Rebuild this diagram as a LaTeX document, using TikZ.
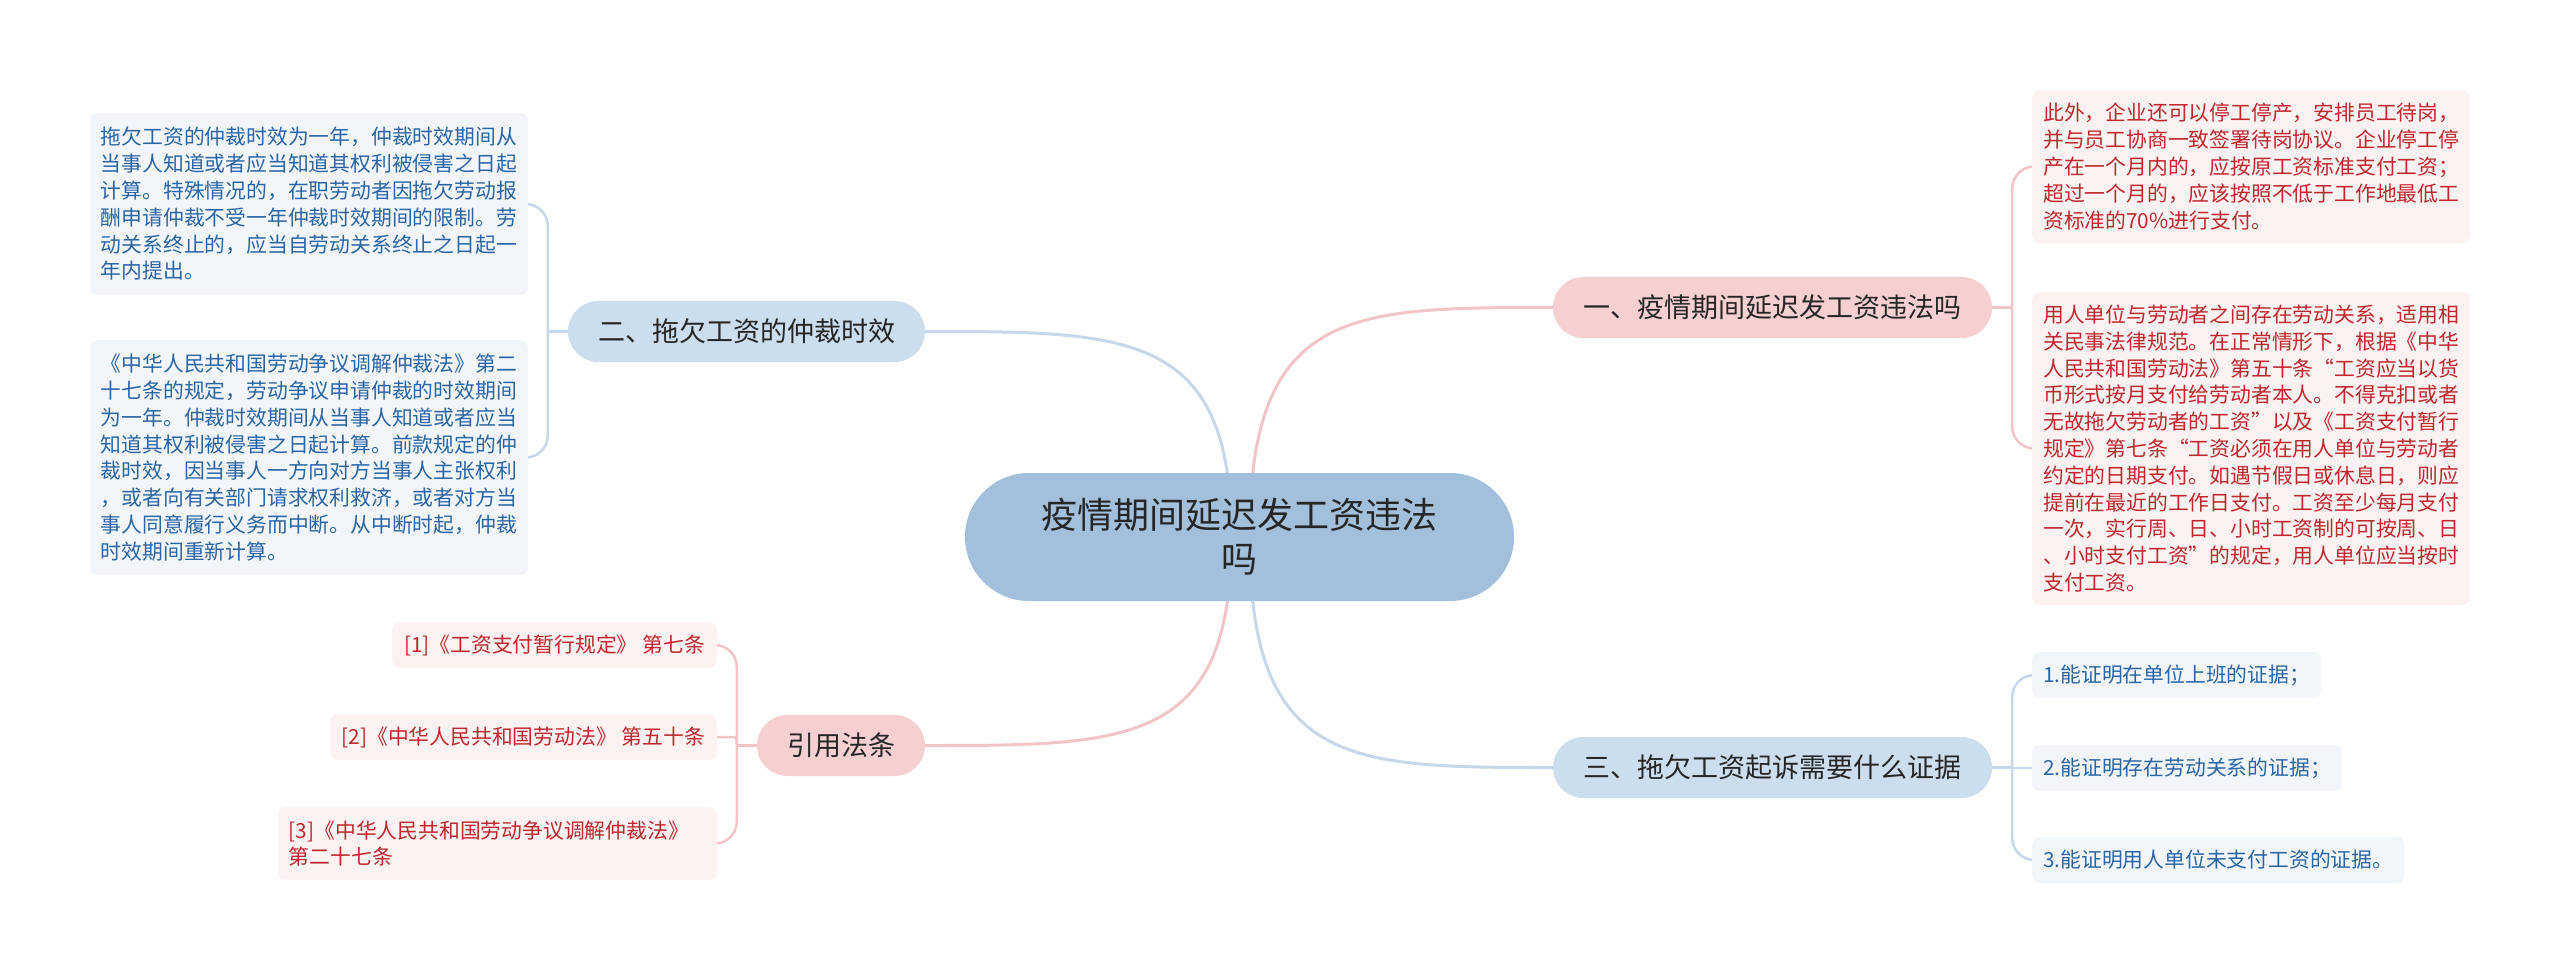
\documentclass[tikz,border=0pt]{standalone}
\usepackage{fontspec}
\setmainfont{Noto Sans CJK SC}
\pgfdeclarelayer{bg}
\pgfsetlayers{bg,main}
\definecolor{rootfill}{HTML}{A2BFDC}
\definecolor{bbfill}{HTML}{CCDDED}
\definecolor{pbfill}{HTML}{F6CFD0}
\definecolor{blfill}{HTML}{F2F6FB}
\definecolor{plfill}{HTML}{FCF2F2}
\definecolor{btext}{HTML}{2B65A6}
\definecolor{ptext}{HTML}{C0282E}
\definecolor{dtext}{HTML}{262626}
\definecolor{bline}{HTML}{C6D7EA}
\definecolor{pline}{HTML}{F1C5C7}
\begin{document}
\begin{tikzpicture}[x=1pt,y=-1pt,
  rootnode/.style={fill=rootfill, rounded corners=64pt, minimum width=549pt, minimum height=128pt,
    align=center, text=dtext, font={\fontsize{36}{44}\selectfont}, inner sep=0pt},
  bbranch/.style={fill=bbfill, rounded corners=30.5pt, minimum height=61pt, text=dtext,
    font={\fontsize{27}{32}\selectfont}, inner sep=0pt},
  pbranch/.style={bbranch, fill=pbfill},
  leafbase/.style={rounded corners=8pt, inner xsep=11pt, inner ysep=4pt, align=left,
    font={\fontsize{20.8}{26.8}\selectfont}},
  bleaf/.style={leafbase, fill=blfill, text=btext},
  pleaf/.style={leafbase, fill=plfill, text=ptext},
  bmain/.style={draw=bline, line width=3pt},
  pmain/.style={draw=pline, line width=3pt},
  bsub/.style={draw=bline, line width=2.5pt},
  psub/.style={draw=pline, line width=2.5pt}
]
\useasboundingbox (0,0) rectangle (2560,974);

% root and branches
\node[rootnode] (root) at (1239.5,537) {疫情期间延迟发工资违法\\吗};
\node[bbranch, minimum width=357pt] (b2) at (746.5,331.5) {二、拖欠工资的仲裁时效};
\node[pbranch, minimum width=439pt] (b1) at (1772.5,307.5) {一、疫情期间延迟发工资违法吗};
\node[bbranch, minimum width=439pt] (b3) at (1772.5,767.5) {三、拖欠工资起诉需要什么证据};
\node[pbranch, minimum width=168pt] (b4) at (841,745.5) {引用法条};

% left top leaves
\node[bleaf, text width=416pt, minimum height=182pt, anchor=east] (l21) at (528,204) {拖欠工资的仲裁时效为一年，仲裁时效期间从\\当事人知道或者应当知道其权利被侵害之日起\\计算。特殊情况的，在职劳动者因拖欠劳动报\\酬申请仲裁不受一年仲裁时效期间的限制。劳\\动关系终止的，应当自劳动关系终止之日起一\\年内提出。};
\node[bleaf, text width=416pt, minimum height=235pt, anchor=east] (l22) at (528,457.5) {《中华人民共和国劳动争议调解仲裁法》第二\\十七条的规定，劳动争议申请仲裁的时效期间\\为一年。仲裁时效期间从当事人知道或者应当\\知道其权利被侵害之日起计算。前款规定的仲\\裁时效，因当事人一方向对方当事人主张权利\\，或者向有关部门请求权利救济，或者对方当\\事人同意履行义务而中断。从中断时起，仲裁\\时效期间重新计算。};

% right top leaves
\node[pleaf, text width=416pt, minimum height=153pt, anchor=west] (l11) at (2032,166.5) {此外，企业还可以停工停产，安排员工待岗，\\并与员工协商一致签署待岗协议。企业停工停\\产在一个月内的，应按原工资标准支付工资；\\超过一个月的，应该按照不低于工作地最低工\\资标准的70\%进行支付。};
\node[pleaf, text width=416pt, minimum height=313pt, anchor=west] (l12) at (2032,448.5) {用人单位与劳动者之间存在劳动关系，适用相\\关民事法律规范。在正常情形下，根据《中华\\人民共和国劳动法》第五十条“工资应当以货\\币形式按月支付给劳动者本人。不得克扣或者\\无故拖欠劳动者的工资”以及《工资支付暂行\\规定》第七条“工资必须在用人单位与劳动者\\约定的日期支付。如遇节假日或休息日，则应\\提前在最近的工作日支付。工资至少每月支付\\一次，实行周、日、小时工资制的可按周、日\\、小时支付工资”的规定，用人单位应当按时\\支付工资。};

% right bottom leaves
\node[bleaf, minimum height=46pt, anchor=west] (l31) at (2032,675) {1.能证明在单位上班的证据；};
\node[bleaf, minimum height=46pt, anchor=west] (l32) at (2032,768) {2.能证明存在劳动关系的证据；};
\node[bleaf, minimum height=46pt, anchor=west] (l33) at (2032,860) {3.能证明用人单位未支付工资的证据。};

% left bottom leaves
\node[pleaf, minimum height=46pt, inner xsep=12pt, anchor=east] (l41) at (717,645) {[1]《工资支付暂行规定》 第七条};
\node[pleaf, minimum height=46pt, inner xsep=12pt, anchor=east] (l42) at (717,737) {[2]《中华人民共和国劳动法》 第五十条};
\node[pleaf, text width=417pt, minimum height=73pt, anchor=east] (l43) at (717,843.5) {[3]《中华人民共和国劳动争议调解仲裁法》\\第二十七条};

\begin{pgfonlayer}{bg}
\fill[white] (0,0) rectangle (2560,974);
\coordinate (sL) at ([xshift=-8pt]root.center);
\coordinate (sR) at ([xshift=10pt]root.center);
\draw[bmain] (sL) .. controls (sL |- b2.east) and ([xshift=205pt]b2.east) .. (b2.east);
\draw[pmain] (sR) .. controls (sR |- b1.west) and ([xshift=-203pt]b1.west) .. (b1.west);
\draw[pmain] (sL) .. controls (sL |- b4.east) and ([xshift=205pt]b4.east) .. (b4.east);
\draw[bmain] (sR) .. controls (sR |- b3.west) and ([xshift=-203pt]b3.west) .. (b3.west);

\coordinate (j2) at ([xshift=-20pt]b2.west);
\draw[bsub] (b2.west) -- (j2);
\draw[bsub, rounded corners=22pt] (j2) -- (j2 |- l21.east) -- (l21.east);
\draw[bsub, rounded corners=22pt] (j2) -- (j2 |- l22.east) -- (l22.east);

\coordinate (j1) at ([xshift=20pt]b1.east);
\draw[psub] (b1.east) -- (j1);
\draw[psub, rounded corners=22pt] (j1) -- (j1 |- l11.west) -- (l11.west);
\draw[psub, rounded corners=22pt] (j1) -- (j1 |- l12.west) -- (l12.west);

\coordinate (j3) at ([xshift=20pt]b3.east);
\draw[bsub] (b3.east) -- (j3);
\draw[bsub, rounded corners=22pt] (j3) -- (j3 |- l31.west) -- (l31.west);
\draw[bsub] (j3) -- (j3 |- l32.west) -- (l32.west);
\draw[bsub, rounded corners=22pt] (j3) -- (j3 |- l33.west) -- (l33.west);

\coordinate (j4) at ([xshift=-20pt]b4.west);
\draw[psub] (b4.west) -- (j4);
\draw[psub, rounded corners=22pt] (j4) -- (j4 |- l41.east) -- (l41.east);
\draw[psub, rounded corners=3pt] (j4) -- (j4 |- l42.east) -- (l42.east);
\draw[psub, rounded corners=22pt] (j4) -- (j4 |- l43.east) -- (l43.east);
\end{pgfonlayer}
\end{tikzpicture}
\end{document}
